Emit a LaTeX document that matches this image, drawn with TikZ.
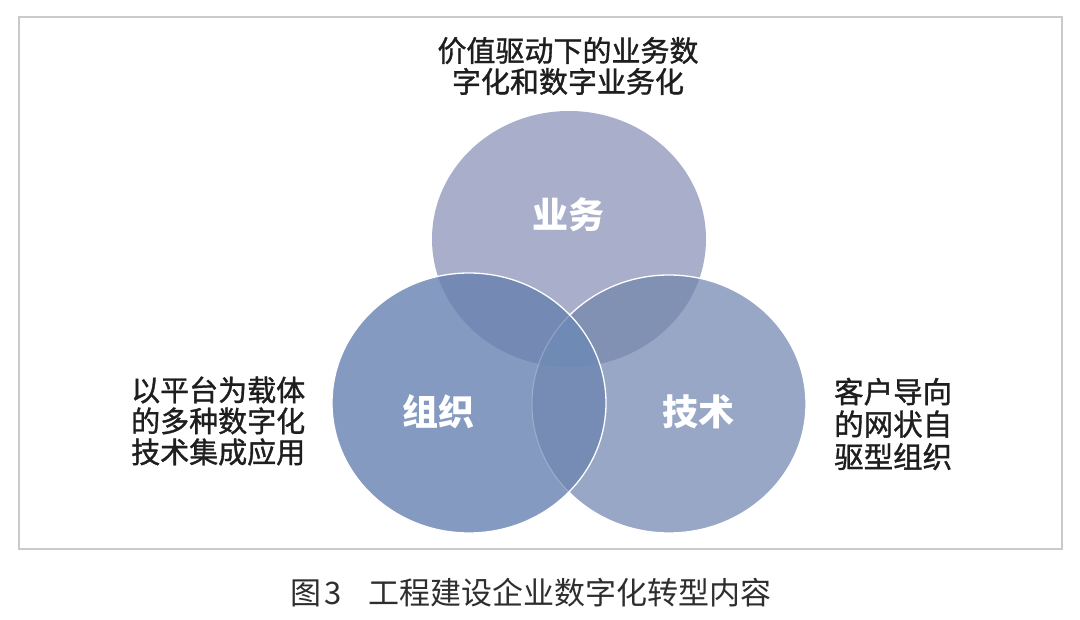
\documentclass[tikz,border=0pt]{standalone}
\usepackage{fontspec}
\newfontfamily\cjk{Noto Sans CJK SC}
\newfontfamily\cjkm{Noto Sans CJK SC}[FakeBold=1.2]
\definecolor{cTop}{HTML}{A9AFCA}
\definecolor{cLeft}{HTML}{859AC0}
\definecolor{cRight}{HTML}{98A7C5}
\definecolor{cTL}{HTML}{748AB4}
\definecolor{cTR}{HTML}{8091B4}
\definecolor{cLR}{HTML}{768CB5}
\definecolor{cAll}{HTML}{6F8AB4}
\definecolor{frameGray}{HTML}{CACACA}
\definecolor{txt}{HTML}{1E1E1E}
\definecolor{captxt}{HTML}{2E2E2E}
\tikzset{
  desc/.style={font=\cjkm\fontsize{29}{31}\selectfont, text=txt, inner sep=0pt},
  circlabel/.style={font=\cjk\bfseries\fontsize{36}{40}\selectfont, text=white, inner sep=0pt},
  captionstyle/.style={font=\cjk\fontsize{31}{34}\selectfont, text=captxt, inner sep=0pt},
  rimline/.style={draw=white, line width=1.3pt}
}
\def\TopE{(569,239) ellipse [x radius=137pt, y radius=128pt]}
\def\LeftE{(469,403) ellipse [x radius=137pt, y radius=130pt]}
\def\RightE{(669,404) ellipse [x radius=137pt, y radius=129pt]}
\begin{document}
\begin{tikzpicture}[x=1pt,y=-1pt]
\useasboundingbox (0,0) rectangle (1080,620);
\fill[white] (0,0) rectangle (1080,620);
\draw[frameGray, line width=1.5pt] (19,17) rectangle (1062,549);
% top circle
\fill[cTop] \TopE;
% right circle
\fill[cRight] \RightE;
\begin{scope}
  \clip \TopE;
  \fill[cTR] \RightE;
\end{scope}
\draw[rimline] \RightE;
% left circle
\fill[cLeft] \LeftE;
\begin{scope}
  \clip \TopE;
  \fill[cTL] \LeftE;
\end{scope}
\begin{scope}
  \clip \RightE;
  \fill[cLR] \LeftE;
\end{scope}
\begin{scope}
  \clip \TopE;
  \clip \RightE;
  \fill[cAll] \LeftE;
\end{scope}
\begin{scope}
  \clip \LeftE;
  \draw[white, opacity=0.25, line width=1pt] \RightE;
\end{scope}
\draw[rimline] \LeftE;
% circle labels
\node[circlabel] (biz) at (568,215) {业务};
\node[circlabel] (org) at (438,412) {组织};
\node[circlabel] (tech) at (698,412) {技术};
% descriptions
\node[desc, align=center] (topdesc) at (568,66) {价值驱动下的业务数\\字化和数字业务化};
\node[desc, align=left, anchor=west] (leftdesc) at (131,421) {以平台为载体\\的多种数字化\\技术集成应用};
\node[desc, align=left, anchor=west, font=\cjkm\fontsize{29.5}{32.5}\selectfont] (rightdesc) at (834,424) {客户导向\\的网状自\\驱型组织};
% caption
\node[captionstyle, anchor=west] (caption) at (290,593) {图\hspace{3pt}3\hspace{27pt}工程建设企业数字化转型内容};
\end{tikzpicture}
\end{document}
